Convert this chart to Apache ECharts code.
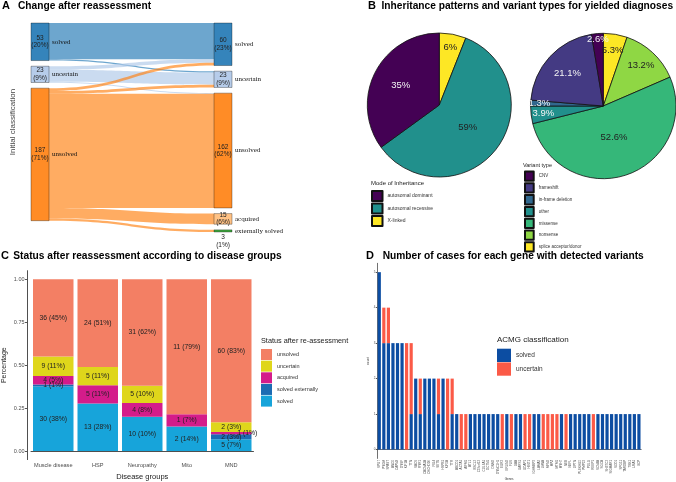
<!DOCTYPE html>
<html>
<head>
<meta charset="utf-8">
<script src="https://cdn.jsdelivr.net/npm/echarts@6/dist/echarts.min.js"></script>
<style>
  html, body { margin: 0; padding: 0; background: #fff; }
  #chart { width: 676px; height: 482px; }
</style>
</head>
<body>
<div id="chart"></div>
<script>
// A: reassessment flows (initial -> after)
const sankeyLeft = ['solved', 'uncertain', 'unsolved'];
const sankeyRight = ['solved', 'uncertain', 'unsolved', 'acquired', 'externally solved'];
const sankeyFlows = [
  ['solved', 'solved', 51],
  ['solved', 'uncertain', 2],
  ['uncertain', 'solved', 5],
  ['uncertain', 'uncertain', 17],
  ['uncertain', 'unsolved', 1],
  ['unsolved', 'solved', 4],
  ['unsolved', 'uncertain', 4],
  ['unsolved', 'unsolved', 161],
  ['unsolved', 'acquired', 15],
  ['unsolved', 'externally solved', 3],
];

// B: pies
const inheritNames = ['X-linked', 'autosomal recessive', 'autosomal dominant'];
const inheritValues = [6, 59, 35];
const inheritLegend = ['autosomal dominant', 'autosomal recessive', 'X-linked'];
const variantNames = ['splice acceptor/donor', 'nonsense', 'missense', 'other', 'in-frame deletion', 'frameshift', 'CNV'];
const variantValues = [5.3, 13.2, 52.6, 3.9, 1.3, 21.1, 2.6];
const variantLegend = ['CNV', 'frameshift', 'in-frame deletion', 'other', 'missense', 'nonsense', 'splice acceptor/donor'];

// C: status by disease group (bar heights as shares, labels as printed)
const groups = ['Muscle disease', 'HSP', 'Neuropathy', 'Mito', 'MND'];
const solvedShare = [0.375, 0.277, 0.2, 0.143, 0.069];
const solvedExtShare = [0.0125, null, null, null, 0.028];
const acquiredShare = [0.05, 0.106, 0.08, 0.071, 0.014];
const uncertainShare = [0.1125, 0.106, 0.1, null, 0.056];
const unsolvedShare = [0.45, 0.511, 0.62, 0.786, 0.833];
const solvedN = [30, 13, 10, 2, 5];
const solvedPct = [38, 28, 10, 14, 7];
const solvedExtN = [1, null, null, null, 2];
const solvedExtPct = [1, null, null, null, 3];
const acquiredN = [4, 5, 4, 1, 1];
const acquiredPct = [5, 11, 8, 7, 1];
const uncertainN = [9, 5, 5, null, 2];
const uncertainPct = [11, 11, 10, null, 3];
const unsolvedN = [36, 24, 31, 11, 60];
const unsolvedPct = [45, 51, 62, 79, 83];

// D: cases per gene
const genes = ['SPG7','PYGM','SPAST','ANO5','CAPN3','DYSF','KIF1A','TTN','SACS','RYR1','CACNA1A','CHCHD10','FIG4','SETX','HSPB1','KIF5A','TTR',
  'ABCD1','ACTA1','AIFM1','ATL1','BSCL2','C19orf12','COL6A1','DCTN1','DNM2','DYNC1H1','EGR2','ERLIN2','FUS','GAA','GARS1','GDAP1','HINT1',
  'IGHMBP2','LAMA2','LMNA','MFN2','MPZ','MTM1','MYH7','NEB','NEFL','OPTN','PLEKHG5','PMP22','POLG','REEP1','SCN4A','SGCA','SH3TC2',
  'SIGMAR1','SOD1','SPG11','TARDBP','TBK1','UBA1','VCP'];
const geneSolved = [5,3,3,3,3,3,0,1,2,1,2,2,2,1,2,0,1,
  1,0,0,1,1,1,1,1,1,1,0,1,0,1,1,0,0,1,1,0,0,0,0,1,0,1,1,1,1,1,0,1,1,1,1,1,1,1,1,1,1];
const geneUncertain = [0,1,1,0,0,0,3,2,0,1,0,0,0,1,0,2,1,
  0,1,1,0,0,0,0,0,0,0,1,0,1,0,0,1,1,0,0,1,1,1,1,0,1,0,0,0,0,0,1,0,0,0,0,0,0,0,0,0,0];

// styling
const SANS = 'Liberation Sans';
const SERIF = 'Liberation Serif';
const nodeColors = { solved: '#1f77b4', uncertain: '#aec7e8', unsolved: '#ff7f0e', acquired: '#ffbb78', 'externally solved': '#2ca02c' };
const inheritColors = { 'autosomal dominant': '#440154', 'autosomal recessive': '#21908C', 'X-linked': '#FDE725' };
const variantColors = { CNV: '#440154', frameshift: '#443A83', 'in-frame deletion': '#31688E', other: '#21908C',
  missense: '#35B779', nonsense: '#8FD744', 'splice acceptor/donor': '#FDE725' };
const darkSlices = ['autosomal dominant', 'CNV', 'frameshift', 'in-frame deletion', 'other'];
const statusColors = { unsolved: '#F37F64', uncertain: '#DFD61B', acquired: '#D41C8A', 'solved externally': '#1C6CB3', solved: '#17A4DA' };
const pieLabelRadius1 = [0.82, 0.5, 0.6];
const pieLabelRadius2 = [0.78, 0.76, 0.46, 0.83, 0.88, 0.67, 0.92];

const total = sankeyFlows.reduce((s, f) => s + f[2], 0);

const buildSankeyData = (withLabels) => {
  const nodes = sankeyLeft.map((n) => ({ name: 'L:' + n, itemStyle: { color: nodeColors[n] } }))
    .concat(sankeyRight.map((n) => {
      const node = { name: 'R:' + n, itemStyle: { color: nodeColors[n] } };
      if (withLabels && n === 'externally solved') node.label = { position: 'bottom', distance: 1 };
      return node;
    }));
  const links = sankeyFlows.map((f) => ({ source: 'L:' + f[0], target: 'R:' + f[1], value: f[2] }));
  return { nodes, links };
};

const sankeyBase = {
  type: 'sankey',
  left: 31, top: 23, width: 201, height: 209,
  nodeWidth: 18, nodeGap: 5.65,
  layoutIterations: 0,
  nodeAlign: 'justify',
  draggable: false,
  emphasis: { disabled: true },
};

const pieLayout = (cx, cy, R, fracs) => (p) => {
  const lx = p.labelRect.x + p.labelRect.width / 2;
  const ly = p.labelRect.y + p.labelRect.height / 2;
  const a = Math.atan2(ly - cy, lx - cx);
  const r = fracs[p.dataIndex] * R;
  return { dx: cx + r * Math.cos(a) - lx, dy: cy + r * Math.sin(a) - ly };
};

const pieSeries = (names, values, colors, center, R, fracs) => ({
  type: 'pie',
  center, radius: R,
  startAngle: 90, clockwise: true,
  silent: true,
  itemStyle: { borderColor: '#111', borderWidth: 0.8 },
  label: { position: 'inside', fontSize: 9.5, fontFamily: SANS },
  labelLine: { show: false },
  labelLayout: pieLayout(center[0], center[1], R, fracs),
  data: names.map((n, i) => ({
    name: n, value: values[i],
    itemStyle: { color: colors[n] },
    label: { color: darkSlices.includes(n) ? '#f4f4f4' : '#222', formatter: values[i] + '%' },
  })),
});

const statusSeries = (name, shares, counts, pcts) => ({
  name, type: 'bar', stack: 'status',
  xAxisIndex: 0, yAxisIndex: 0,
  barCategoryGap: '9%',
  itemStyle: { color: statusColors[name] },
  label: {
    show: true, position: 'inside', fontSize: 6.8, color: '#222', fontFamily: SANS,
    formatter: (p) => counts[p.dataIndex] + ' (' + pcts[p.dataIndex] + '%)',
  },
  data: shares.map((v, i) => {
    if (v == null) return '-';
    // MND "1 (1%)" label sits beside the thin segment
    if (name === 'acquired' && i === 4) return { value: v, label: { offset: [16, 0] } };
    return v;
  }),
});

const heading = (text, left, top, size) => ({
  text, left, top, padding: 0,
  textStyle: { fontSize: size, fontWeight: 'bold', color: '#000' },
});
const legendTitle = (text, left, top, size) => ({
  text, left, top, padding: 0,
  textStyle: { fontSize: size, fontWeight: 'normal', color: '#222' },
});

const chart = echarts.init(document.getElementById('chart'), null, { renderer: 'canvas' });

chart.setOption({
  backgroundColor: '#fff',
  animation: false,
  textStyle: { fontFamily: SANS },
  title: [
    heading('A', 2, 0.5, 11),
    heading('Change after reassessment', 18, 1, 10.2),
    heading('B', 368, 0.5, 11),
    heading('Inheritance patterns and variant types for yielded diagnoses', 381.5, 1, 10.2),
    heading('C', 1, 250.5, 11),
    heading('Status after reassessment according to disease groups', 13.3, 251, 10.2),
    heading('D', 366, 250.5, 11),
    heading('Number of cases for each gene with detected variants', 382.7, 251, 10.2),
    legendTitle('Mode of Inheritance', 371, 180.5, 6),
    legendTitle('Variant type', 523, 162, 5.5),
    legendTitle('Status after re-assessment', 261, 337, 7.3),
    legendTitle('ACMG classification', 497, 335.5, 8),
  ],
  legend: [
    {
      data: inheritLegend, left: 371, top: 190, orient: 'vertical', padding: 0,
      itemWidth: 10.5, itemHeight: 10, itemGap: 0.5, icon: 'rect', selectedMode: false,
      textStyle: { fontSize: 5, color: '#333' },
    },
    {
      data: variantLegend, left: 524, top: 170.5, orient: 'vertical', padding: 0,
      itemWidth: 8.7, itemHeight: 9.3, itemGap: 0.5, icon: 'rect', selectedMode: false,
      textStyle: { fontSize: 4.5, color: '#333' },
    },
    {
      data: ['unsolved', 'uncertain', 'acquired', 'solved externally', 'solved'],
      left: 261, top: 349, orient: 'vertical', padding: 0,
      itemWidth: 11, itemHeight: 11, itemGap: 0.65, icon: 'rect', selectedMode: false,
      textStyle: { fontSize: 5.5, color: '#333' },
    },
    {
      data: ['ACMG solved', 'ACMG uncertain'], left: 497, top: 348.7, orient: 'vertical', padding: 0,
      itemWidth: 14, itemHeight: 13.3, itemGap: 0.4, icon: 'rect', selectedMode: false,
      formatter: (n) => n.replace('ACMG ', ''),
      textStyle: { fontSize: 6.5, color: '#333' },
    },
  ],
  grid: [
    { left: 29, top: 270.7, width: 224.5, height: 188.9 },
    { left: 377, top: 263.3, width: 264.2, height: 196.7 },
  ],
  xAxis: [
    {
      type: 'category', gridIndex: 0, data: groups,
      name: 'Disease groups', nameLocation: 'middle', nameGap: 13,
      nameTextStyle: { fontSize: 7.5, color: '#222' },
      axisLine: { lineStyle: { color: '#222', width: 0.8 } },
      axisTick: { alignWithLabel: true, length: 2, lineStyle: { color: '#555' } },
      axisLabel: { fontSize: 5.6, color: '#4d4d4d', margin: 3, interval: 0 },
    },
    {
      type: 'category', gridIndex: 1, data: genes,
      name: 'Genes', nameLocation: 'middle', nameGap: 19,
      nameTextStyle: { fontSize: 3, color: '#333' },
      axisLine: { lineStyle: { color: '#333', width: 0.7 } },
      axisTick: { alignWithLabel: true, length: 1.2, lineStyle: { color: '#555' } },
      axisLabel: { fontSize: 3, color: '#4d4d4d', rotate: 90, interval: 0, margin: 1.5 },
    },
  ],
  yAxis: [
    {
      type: 'value', gridIndex: 0, min: -0.05, max: 1.05, offset: 4,
      name: 'Percentage', nameLocation: 'middle', nameGap: 19,
      nameTextStyle: { fontSize: 7, color: '#222' },
      splitLine: { show: false },
      axisLine: { show: true, lineStyle: { color: '#222', width: 0.8 } },
      axisTick: { show: true, length: 2, customValues: [0, 0.25, 0.5, 0.75, 1], lineStyle: { color: '#555' } },
      axisLabel: { fontSize: 5.5, color: '#4d4d4d', margin: 2.5, customValues: [0, 0.25, 0.5, 0.75, 1], formatter: (v) => v.toFixed(2) },
    },
    {
      type: 'value', gridIndex: 1, min: -0.25, max: 5.25,
      name: 'count', nameLocation: 'middle', nameGap: 6.5,
      nameTextStyle: { fontSize: 3, color: '#333' },
      splitLine: { show: false },
      axisLine: { show: true, lineStyle: { color: '#333', width: 0.7 } },
      axisTick: { show: true, length: 1.2, customValues: [0, 1, 2, 3, 4, 5], lineStyle: { color: '#555' } },
      axisLabel: { fontSize: 3, color: '#4d4d4d', margin: 1.5, customValues: [0, 1, 2, 3, 4, 5] },
    },
  ],
  graphic: [
    {
      type: 'text', x: 13, y: 122, rotation: Math.PI / 2,
      style: { text: 'Initial classification', fontSize: 8, fontFamily: SANS, fill: '#444', align: 'center', verticalAlign: 'middle' },
    },
  ],
  series: [
    Object.assign({}, sankeyBase, {
      name: 'flows',
      data: buildSankeyData(true).nodes,
      links: buildSankeyData(true).links,
      itemStyle: { opacity: 0.9, borderColor: 'rgba(0,0,0,0.35)', borderWidth: 1 },
      lineStyle: { color: 'source', opacity: 0.65, curveness: 0.5 },
      label: {
        show: true, position: 'inside', fontSize: 6.5, lineHeight: 7.5, color: '#222', fontFamily: SANS, align: 'center',
        formatter: (p) => p.value + '\n(' + Math.round((p.value / total) * 100) + '%)',
      },
    }),
    Object.assign({}, sankeyBase, {
      name: 'flow names',
      silent: true,
      data: buildSankeyData(false).nodes.map((n) => ({ name: n.name, itemStyle: { color: 'rgba(0,0,0,0)' } })),
      links: buildSankeyData(false).links,
      itemStyle: { borderWidth: 0 },
      lineStyle: { color: 'rgba(0,0,0,0)', opacity: 0 },
      label: {
        show: true, position: 'right', distance: 3, fontSize: 7, color: '#111', fontFamily: SERIF,
        formatter: (p) => p.name.slice(2),
      },
    }),
    pieSeries(inheritNames, inheritValues, inheritColors, [439.3, 105], 72, pieLabelRadius1),
    pieSeries(variantNames, variantValues, variantColors, [603.3, 106], 72.7, pieLabelRadius2),
    statusSeries('solved', solvedShare, solvedN, solvedPct),
    statusSeries('solved externally', solvedExtShare, solvedExtN, solvedExtPct),
    statusSeries('acquired', acquiredShare, acquiredN, acquiredPct),
    statusSeries('uncertain', uncertainShare, uncertainN, uncertainPct),
    statusSeries('unsolved', unsolvedShare, unsolvedN, unsolvedPct),
    {
      name: 'ACMG solved', type: 'bar', stack: 'genes', xAxisIndex: 1, yAxisIndex: 1,
      barCategoryGap: '30%', itemStyle: { color: '#0C4DA2' }, data: geneSolved,
    },
    {
      name: 'ACMG uncertain', type: 'bar', stack: 'genes', xAxisIndex: 1, yAxisIndex: 1,
      barCategoryGap: '30%', itemStyle: { color: '#FB5A47' }, data: geneUncertain,
    },
  ],
});
</script>
</body>
</html>
